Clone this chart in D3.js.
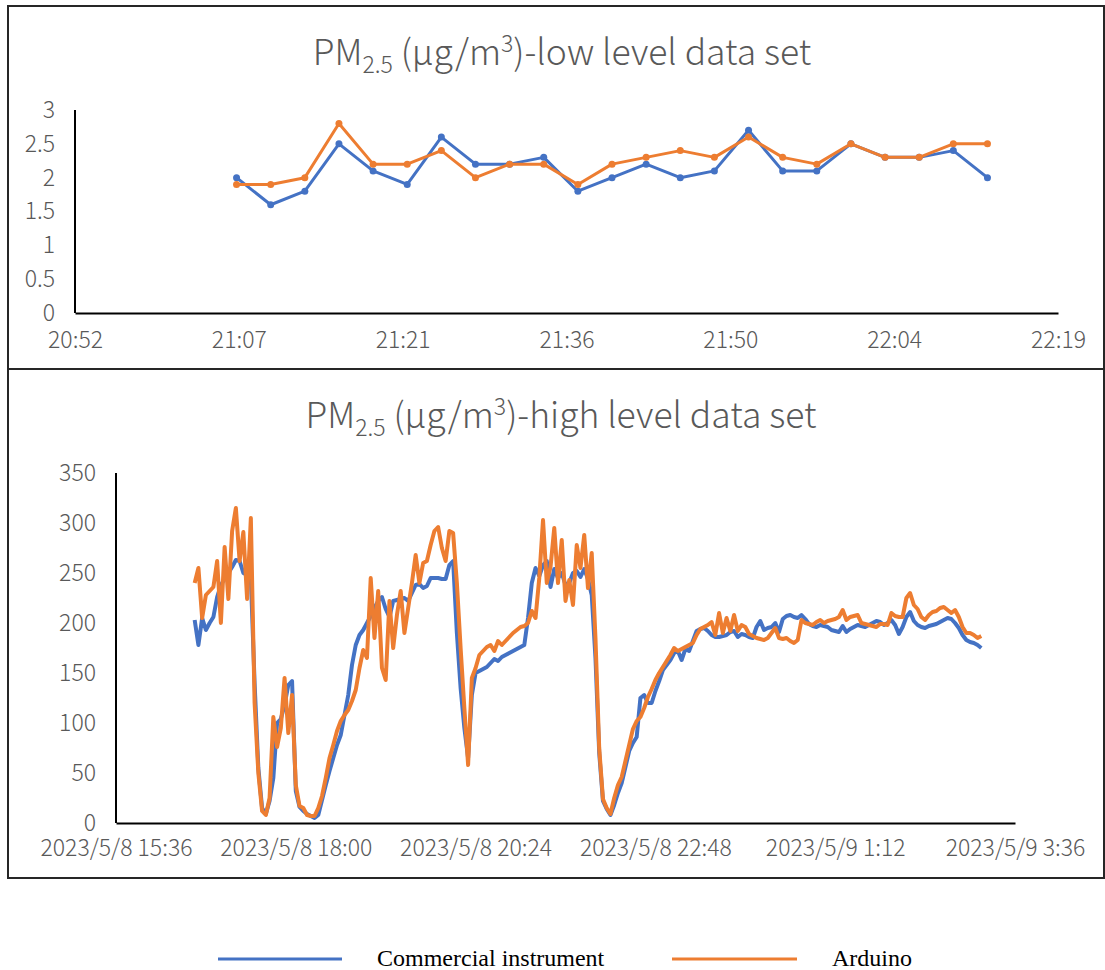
<!DOCTYPE html>
<html>
<head>
<meta charset="utf-8">
<script src="https://cdn.jsdelivr.net/npm/d3@7"></script>
<style>
  html, body { margin: 0; padding: 0; background: #fff; }
  svg { display: block; }
  .lbl { font-family: "Noto Sans CJK SC", "Noto Sans", sans-serif; font-weight: 300; fill: #595959; }
</style>
</head>
<body>
<svg id="chart" width="1105" height="970"></svg>
<script>
// ---------- Low-level data set (3-minute readings) ----------
const lowTimes = ["21:07","21:10","21:13","21:16","21:19","21:22","21:25","21:28","21:31","21:34",
                  "21:37","21:40","21:43","21:46","21:49","21:52","21:55","21:58","22:01","22:04",
                  "22:07","22:10","22:13"];
const lowCommercial = [2.0,1.6,1.8,2.5,2.1,1.9,2.6,2.2,2.2,2.3,1.8,2.0,2.2,2.0,2.1,2.7,2.1,2.1,2.5,2.3,2.3,2.4,2.0];
const lowArduino    = [1.9,1.9,2.0,2.8,2.2,2.2,2.4,2.0,2.2,2.2,1.9,2.2,2.3,2.4,2.3,2.6,2.3,2.2,2.5,2.3,2.3,2.5,2.5];
const lowXTickLabels = ["20:52","21:07","21:21","21:36","21:50","22:04","22:19"];
const lowYTicks = [0,0.5,1,1.5,2,2.5,3];

// ---------- High-level data set (readings every 3 minutes from 16:39) ----------
const highStart = "2023-05-08T16:39:00";
const highStepMinutes = 3;
const highCommercial = [
  203,178,205,193,200,206,226,238,244,250, 256,263,262,250,248,245,140,55,15,9,
  22,45,100,104,118,138,142,32,16,12, 9,7,5,8,23,38,52,65,78,88,
  108,128,158,178,188,193,200,207,215,222, 226,214,206,222,223,224,225,222,230,238,
  239,235,237,245,245,245,244,244,258,262, 190,135,95,65,128,150,152,154,156,160,
  164,162,166,168,170,172,174,176,178,205, 240,255,247,258,262,236,254,245,250,238,
  240,250,252,246,254,244,228,165,70,22, 14,8,18,30,40,56,72,80,86,125,
  128,120,120,132,142,153,158,163,170,172, 163,174,172,182,192,194,195,192,188,186,
  186,187,188,191,192,186,189,188,186,185, 196,202,193,195,196,200,191,204,207,208,
  206,205,208,204,199,197,196,198,197,196, 193,192,191,197,191,194,196,198,197,196,
  198,200,202,201,198,200,203,198,189,196, 206,211,202,198,196,195,197,198,199,201,
  203,205,204,200,195,188,183,181,180,178, 175
];
const highArduino = [
  240,255,205,228,232,236,262,200,276,224, 292,315,262,291,224,305,120,50,12,8,
  25,106,76,95,145,90,128,38,17,15, 8,7,7,15,27,45,65,78,92,102,
  108,113,122,133,155,173,165,245,185,232, 155,143,222,175,208,232,190,215,240,268,
  240,260,262,278,292,296,275,262,292,290, 240,175,115,58,145,155,168,172,176,178,
  172,182,178,182,186,190,193,196,197,200, 212,205,245,303,240,256,295,240,283,222,
  243,218,278,255,288,235,270,185,75,24, 15,9,25,38,46,62,78,94,102,106,
  115,126,134,143,150,156,162,168,175,172, 174,176,178,180,188,194,196,198,201,188,
  210,190,205,192,208,192,198,196,189,187, 185,184,183,185,190,195,185,184,185,182,
  180,183,203,200,199,198,201,203,200,202, 203,204,206,213,203,206,207,208,200,199,
  198,197,196,199,199,198,210,207,206,206, 225,230,218,214,206,203,208,211,212,215,
  216,213,210,213,206,196,190,190,188,185, 187
];
const highXTickLabels = ["2023/5/8 15:36","2023/5/8 18:00","2023/5/8 20:24","2023/5/8 22:48","2023/5/9 1:12","2023/5/9 3:36"];
const highYTicks = [0,50,100,150,200,250,300,350];

const seriesNames = ["Commercial instrument","Arduino"];
const seriesColors = ["#4472C4","#ED7D31"];

// ---------- helpers ----------
const svg = d3.select("#chart");
svg.append("rect").attr("width",1105).attr("height",970).attr("fill","#fff");

const parseDay = d3.timeParse("%Y-%m-%d %H:%M");
const FONT = '"Noto Sans CJK SC", "Noto Sans", sans-serif';

function drawTitle(cx, baseline, rest) {
  const t = svg.append("text").attr("class","lbl")
    .attr("x", cx).attr("y", baseline).attr("text-anchor","middle")
    .style("font-size","35.5px");
  t.append("tspan").text("PM");
  t.append("tspan").attr("dy", 8).style("font-size","23px").text("2.5");
  t.append("tspan").attr("dy", -8).text(" (\u00b5g/m");
  t.append("tspan").attr("dy", -13).style("font-size","23px").text("3");
  t.append("tspan").attr("dy", 13).text(")-" + rest);
}

function frame(x, y, w, h) {
  svg.append("rect").attr("x",x).attr("y",y).attr("width",w).attr("height",h)
    .attr("fill","none").attr("stroke","#262626").attr("stroke-width",2);
}

function styleAxis(g) {
  g.select(".domain").attr("stroke","#000").attr("stroke-width",2);
  g.selectAll(".tick line").remove();
  g.selectAll(".tick text").attr("fill","#595959")
    .style("font-family", FONT).style("font-weight", 300).style("font-size","23px");
}

// ---------- frames ----------
frame(8, 6, 1096, 363);
frame(8, 369, 1096, 509);

// ---------- top chart: low level ----------
{
  const day = "2023-05-08";
  const x0 = parseDay(day + " 20:52"); // axis start 20:52:48
  const t0 = new Date(x0.getTime() + 48000);
  const stepMs = 14.4 * 60000;
  const xTicks = lowXTickLabels.map((_, i) => new Date(t0.getTime() + i * stepMs));
  const x = d3.scaleTime().domain([xTicks[0], xTicks[xTicks.length - 1]]).range([75, 1058]);
  const y = d3.scaleLinear().domain([0, 3]).range([313, 110]);
  const times = lowTimes.map(s => parseDay(day + " " + s));

  drawTitle(562, 65, "low level data set");

  const gx = svg.append("g").attr("transform","translate(0,313)")
    .call(d3.axisBottom(x).tickValues(xTicks).tickSize(0).tickPadding(19)
      .tickFormat((d, i) => lowXTickLabels[i]));
  styleAxis(gx);

  const gy = svg.append("g").attr("transform","translate(75,0)")
    .call(d3.axisLeft(y).tickValues(lowYTicks).tickSize(0).tickPadding(20)
      .tickFormat(d3.format("~g")));
  styleAxis(gy);
  gy.select(".domain").attr("d", `M0,${y(3)}V${y(0)}`);

  [lowCommercial, lowArduino].forEach((vals, si) => {
    const pts = vals.map((v, i) => [times[i], v]);
    svg.append("path").datum(pts)
      .attr("fill","none").attr("stroke",seriesColors[si]).attr("stroke-width",3)
      .attr("stroke-linejoin","round")
      .attr("d", d3.line().x(d => x(d[0])).y(d => y(d[1])));
    svg.append("g").selectAll("circle").data(pts).join("circle")
      .attr("cx", d => x(d[0])).attr("cy", d => y(d[1])).attr("r", 3.5)
      .attr("fill", seriesColors[si]);
  });
}

// ---------- bottom chart: high level ----------
{
  const xStart = parseDay("2023-05-08 15:36");
  const tickStep = 2.4 * 3600000;
  const xTicks = highXTickLabels.map((_, i) => new Date(xStart.getTime() + i * tickStep));
  const x = d3.scaleTime().domain([xTicks[0], xTicks[xTicks.length - 1]]).range([116, 1015]);
  const y = d3.scaleLinear().domain([0, 350]).range([823, 473]);
  const s0 = new Date(highStart);
  const timeAt = i => new Date(s0.getTime() + i * highStepMinutes * 60000);

  drawTitle(561, 428, "high level data set");

  const gx = svg.append("g").attr("transform","translate(0,823)")
    .call(d3.axisBottom(x).tickValues(xTicks).tickSize(0).tickPadding(17)
      .tickFormat((d, i) => highXTickLabels[i]));
  styleAxis(gx);

  const gy = svg.append("g").attr("transform","translate(116,0)")
    .call(d3.axisLeft(y).tickValues(highYTicks).tickSize(0).tickPadding(20));
  styleAxis(gy);
  gy.select(".domain").attr("d", `M0,${y(350)}V${y(0)}`);

  [highCommercial, highArduino].forEach((vals, si) => {
    svg.append("path").datum(vals)
      .attr("fill","none").attr("stroke",seriesColors[si]).attr("stroke-width",4)
      .attr("stroke-linejoin","round")
      .attr("d", d3.line().x((d, i) => x(timeAt(i))).y(d => y(d)));
  });
}

// ---------- legend ----------
{
  const items = [
    {x1: 218, x2: 342, tx: 377},
    {x1: 672, x2: 797, tx: 832}
  ];
  items.forEach((it, i) => {
    svg.append("line").attr("x1", it.x1).attr("x2", it.x2).attr("y1", 959).attr("y2", 959)
      .attr("stroke", seriesColors[i]).attr("stroke-width", 3);
    svg.append("text").attr("x", it.tx).attr("y", 966)
      .style("font-family", '"Liberation Serif", "Times New Roman", serif')
      .style("font-size", "24px").attr("fill", "#000").text(seriesNames[i]);
  });
}
</script>
</body>
</html>
